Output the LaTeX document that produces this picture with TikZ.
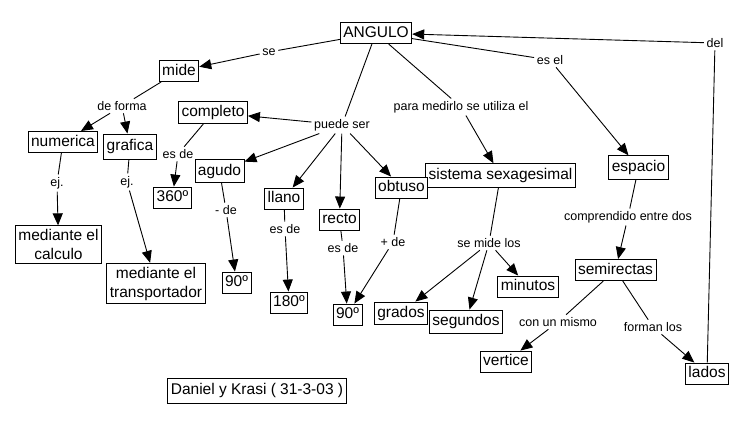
\documentclass[tikz,border=0pt]{standalone}
\usepackage{fontspec}
\setmainfont{Liberation Sans}
\usetikzlibrary{arrows.meta}
\tikzset{
  concept/.style={draw, line width=0.9pt, fill=white, font=\fontsize{15.5}{19}\selectfont,
    inner xsep=3pt, inner ysep=0pt, text height=11.5pt, text depth=3.5pt, minimum height=21pt},
  multi/.style={draw, line width=0.9pt, fill=white, font=\fontsize{15.5}{19}\selectfont,
    align=center, inner xsep=3pt, inner ysep=3.5pt},
  lbl/.style={font=\fontsize{12.5}{14}\selectfont, inner sep=2.5pt},
  link/.style={draw, line width=0.9pt},
  arr/.style={link, -{Triangle[length=12pt,width=10pt]}}
}
\begin{document}
\begin{tikzpicture}[x=1pt,y=-1pt]
\useasboundingbox (0,0) rectangle (749,423);
% concepts
\node[concept] (angulo) at (376,33) {ANGULO};
\node[concept] (mide) at (179,71) {mide};
\node[concept, minimum height=22pt] (completo) at (213,112.5) {completo};
\node[concept] (numerica) at (63,142) {numerica};
\node[concept, minimum height=25pt] (grafica) at (130,146.5) {grafica};
\node[concept, minimum height=23.5pt] (agudo) at (219.5,171) {agudo};
\node[concept] (c360) at (172.5,197.5) {360º};
\node[concept] (llano) at (284,198.5) {llano};
\node[concept] (recto) at (339.5,219.5) {recto};
\node[concept, minimum height=23.5pt] (sistema) at (500.5,175.5) {sistema sexagesimal};
\node[concept] (obtuso) at (401.5,187.5) {obtuso};
\node[concept, minimum height=23.5pt] (espacio) at (638.5,167.5) {espacio};
\node[concept] (n90a) at (236.5,282.5) {90º};
\node[concept] (n180) at (289,302.5) {180º};
\node[concept] (n90r) at (347.5,314.5) {90º};
\node[concept, minimum height=22pt] (grados) at (401,313) {grados};
\node[concept, minimum height=23pt] (segundos) at (466,321.5) {segundos};
\node[concept] (minutos) at (528,286.5) {minutos};
\node[concept] (semirectas) at (615.5,270) {semirectas};
\node[concept] (vertice) at (506,361.5) {vertice};
\node[concept] (lados) at (707,373.5) {lados};
\node[multi] (calculo) at (58.5,244.5) {mediante el\\calculo};
\node[multi] (transp) at (156,283.5) {mediante el\\transportador};
\node[concept, minimum height=25pt, inner xsep=3.5pt] (daniel) at (257,390.5) {Daniel y Krasi ( 31-3-03 )};
% link labels
\node[lbl] (lse) at (269,52) {se};
\node[lbl] (ldeforma) at (122,106) {de forma};
\node[lbl] (lpuede) at (342,125) {puede ser};
\node[lbl] (lesde1) at (178,154) {es de};
\node[lbl] (lej1) at (57,183) {ej.};
\node[lbl] (lej2) at (127,182) {ej.};
\node[lbl] (lmenos) at (226,210) {- de};
\node[lbl] (lesde2) at (285,229) {es de};
\node[lbl] (lesde3) at (343,248) {es de};
\node[lbl] (lmas) at (393,242) {+ de};
\node[lbl] (lpara) at (461,107) {para medirlo se utiliza el};
\node[lbl] (lesel) at (550,60) {es el};
\node[lbl] (ldel) at (715,43) {del};
\node[lbl] (lsemide) at (489,243) {se mide los};
\node[lbl] (lcomp) at (628,217) {comprendido entre dos};
\node[lbl] (lcon) at (558,322) {con un mismo};
\node[lbl] (lforman) at (653,327) {forman los};
% connectors
\draw[link] (angulo) -- (lse);
\draw[arr] (lse) -- (mide);
\draw[link] (mide) -- (ldeforma);
\draw[arr] (ldeforma) -- (numerica);
\draw[arr] (ldeforma) -- (grafica);
\draw[link] (numerica) -- (lej1);
\draw[arr] (lej1) -- (calculo);
\draw[link] (grafica) -- (lej2);
\draw[arr] (lej2) -- (transp);
\draw[link] (angulo) -- (lpuede);
\draw[arr] (lpuede) -- (completo);
\draw[arr] (lpuede) -- (agudo);
\draw[arr] (lpuede) -- (llano);
\draw[arr] (lpuede) -- (recto);
\draw[arr] (lpuede) -- (obtuso);
\draw[link] (completo) -- (lesde1);
\draw[arr] (lesde1) -- (c360);
\draw[link] (agudo) -- (lmenos);
\draw[arr] (lmenos) -- (n90a);
\draw[link] (llano) -- (lesde2);
\draw[arr] (lesde2) -- (n180);
\draw[link] (recto) -- (lesde3);
\draw[arr] (lesde3) -- (n90r);
\draw[link] (obtuso) -- (lmas);
\draw[arr] (lmas) -- (n90r);
\draw[link] (angulo) -- (lpara);
\draw[arr] (lpara) -- (sistema);
\draw[link] (sistema) -- (lsemide);
\draw[arr] (lsemide) -- (grados);
\draw[arr] (lsemide) -- (segundos);
\draw[arr] (lsemide) -- (minutos);
\draw[link] (angulo) -- (lesel);
\draw[arr] (lesel) -- (espacio);
\draw[link] (espacio) -- (lcomp);
\draw[arr] (lcomp) -- (semirectas);
\draw[link] (semirectas) -- (lcon);
\draw[arr] (lcon) -- (vertice);
\draw[link] (semirectas) -- (lforman);
\draw[arr] (lforman) -- (lados);
\draw[link] (lados) -- (ldel);
\draw[arr] (ldel) -- (angulo);
\end{tikzpicture}
\end{document}
